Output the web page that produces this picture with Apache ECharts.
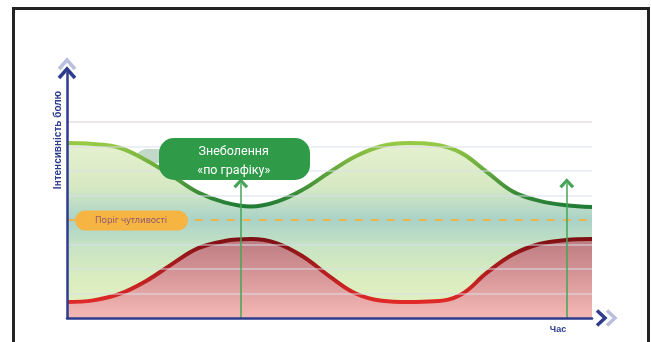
<!DOCTYPE html>
<html>
<head>
<meta charset="utf-8">
<script src="https://cdn.jsdelivr.net/npm/echarts@6/dist/echarts.min.js"></script>
<style>
  html, body { margin: 0; padding: 0; background: #ffffff; }
  #chart { width: 651px; height: 342px; }
</style>
</head>
<body>
<div id="chart"></div>
<script>
// Pain level over time: without analgesia "on schedule" (green) and with it (red)
const timeSteps  = [0, 5, 10, 15, 20, 25, 30, 35, 40, 45, 50, 55, 60, 65, 70, 75, 80, 85, 90, 95, 100];
const greenLevel = [7.14, 7.1, 6.95, 6.45, 5.8, 5.12, 4.72, 4.55, 4.75, 5.25, 5.95, 6.6, 7.02, 7.14, 7.08, 6.75, 5.95, 5.15, 4.78, 4.6, 4.53];
const redLevel   = [0.65, 0.72, 0.98, 1.5, 2.2, 2.85, 3.14, 3.22, 3.05, 2.5, 1.7, 1.0, 0.7, 0.65, 0.68, 0.95, 1.85, 2.6, 3.02, 3.18, 3.22];

const gridLevels     = [1, 2, 3, 5, 6, 7, 8];
const thresholdLevel = 4;
const doseTimes      = [33.1, 95.2];
const doseArrowTop   = 5.5;

const yAxisTitle     = 'Інтенсивність болю';
const xAxisTitle     = 'Час';
const thresholdTitle = 'Поріг чутливості';
const doseTitle      = 'Знеболення\n«по графіку»';

const NAVY = '#2e3b8e';
const chevronUp = 'path://M0,8 L7,0 L14,8 L11.6,10 L7,4.6 L2.4,10 Z';

const zip = (xs, ys) => xs.map((x, i) => [x, ys[i]]);
const vgrad = (stops) => new echarts.graphic.LinearGradient(0, 0, 0, 1,
  stops.map(([offset, color]) => ({ offset, color })));

const chart = echarts.init(document.getElementById('chart'), null, { renderer: 'canvas' });

chart.setOption({
  animation: false,
  grid: { left: 67, right: 59, top: 73, bottom: 24 },
  xAxis: {
    type: 'value', min: 0, max: 100, z: 5,
    axisLine: { show: true, lineStyle: { color: NAVY, width: 2.5 } },
    axisTick: { show: false }, axisLabel: { show: false }, splitLine: { show: false }
  },
  yAxis: {
    type: 'value', min: 0, max: 10, z: 5,
    axisLine: { show: true, lineStyle: { color: NAVY, width: 2.5 } },
    axisTick: { show: false }, axisLabel: { show: false }, splitLine: { show: false }
  },
  series: [
    {
      name: 'green', type: 'line', z: 2,
      data: zip(timeSteps, greenLevel),
      smooth: 0.4, symbol: 'none',
      lineStyle: { width: 4, color: vgrad([[0, '#9ccc46'], [1, '#1b7834']]) },
      areaStyle: {
        opacity: 1,
        color: vgrad([[0, '#e6f1cf'], [0.25, '#d6e9c3'], [0.44, '#a9d3c8'], [0.6, '#c8e4c3'], [0.8, '#dceebf'], [1, '#e1efc2']])
      }
    },
    {
      name: 'red', type: 'line', z: 3,
      data: zip(timeSteps, redLevel),
      smooth: 0.4, symbol: 'none',
      lineStyle: { width: 4, color: vgrad([[0, '#7c1014'], [1, '#e42a28']]) },
      areaStyle: {
        opacity: 1,
        color: vgrad([[0, '#bb7b80'], [0.5, '#d9999b'], [1, '#f4b8b4']])
      }
    },
    {
      name: 'guides', type: 'line', z: 4, data: [],
      markLine: {
        silent: true, animation: false,
        symbol: 'none',
        label: { show: false },
        data: [
          ...gridLevels.map(v => ({
            yAxis: v,
            lineStyle: { color: v === 8 ? 'rgba(232,215,218,0.9)' : 'rgba(218,222,236,0.65)', width: 1.5, type: 'solid' }
          })),
          {
            yAxis: thresholdLevel,
            lineStyle: { color: '#f0b24a', width: 2, type: [8, 8] }
          },
          ...doseTimes.map(t => [
            { coord: [t, 0], symbol: 'none', lineStyle: { color: '#45a456', width: 1.5, type: 'solid' } },
            { coord: [t, doseArrowTop], symbol: chevronUp, symbolSize: [15, 10] }
          ])
        ]
      }
    }
  ]
});

// Decorations positioned from the axes
const x0 = chart.convertToPixel({ xAxisIndex: 0 }, 0);
const x1 = chart.convertToPixel({ xAxisIndex: 0 }, 100);
const y0 = chart.convertToPixel({ yAxisIndex: 0 }, 0);
const y1 = chart.convertToPixel({ yAxisIndex: 0 }, 10);
const yThr = chart.convertToPixel({ yAxisIndex: 0 }, thresholdLevel);
const xDose = chart.convertToPixel({ xAxisIndex: 0 }, doseTimes[0]);

const chevron = (pts, color) => ({
  type: 'polyline', z: 20,
  shape: { points: pts },
  style: { stroke: color, lineWidth: 3.5, fill: 'none', lineJoin: 'miter', lineCap: 'butt' }
});

chart.setOption({
  graphic: [
    // frame
    {
      type: 'rect', z: 30,
      shape: { x: 13.5, y: 8.5, width: 635, height: 360 },
      style: { fill: 'none', stroke: '#232323', lineWidth: 3 }
    },
    // soft shadow behind the callout
    {
      type: 'rect', z: 0,
      shape: { x: 135, y: 149, width: 40, height: 14, r: [12, 12, 0, 0] },
      style: { fill: '#c2d9ca' }
    },
    // y axis arrow
    chevron([[x0 - 8, y1 - 4], [x0, y1 - 13], [x0 + 8, y1 - 4]], '#b9bfdc'),
    chevron([[x0 - 8, y1 + 5], [x0, y1 - 4], [x0 + 8, y1 + 5]], NAVY),
    // x axis arrow
    chevron([[x1 + 5, y0 - 7.5], [x1 + 13, y0], [x1 + 5, y0 + 7.5]], NAVY),
    chevron([[x1 + 15, y0 - 7.5], [x1 + 23, y0], [x1 + 15, y0 + 7.5]], '#b9bfdc'),
    // axis titles
    {
      type: 'text', z: 20, x: 58, y: 140, rotation: Math.PI / 2,
      style: { text: yAxisTitle, fill: NAVY, font: 'bold 10px "Liberation Sans", Arial, sans-serif', align: 'center', verticalAlign: 'middle' }
    },
    {
      type: 'text', z: 20, x: 558, y: 330,
      style: { text: xAxisTitle, fill: NAVY, font: 'bold 9px "Liberation Sans", Arial, sans-serif', align: 'center', verticalAlign: 'middle' }
    },
    // threshold badge
    {
      type: 'rect', z: 20,
      shape: { x: 75, y: yThr - 9.5, width: 113, height: 20, r: 10 },
      style: { fill: '#f6b443' }
    },
    {
      type: 'text', z: 21, x: 131, y: yThr + 0.5,
      style: { text: thresholdTitle, fill: '#8f5a6e', font: '9px "Noto Sans", sans-serif', align: 'center', verticalAlign: 'middle' }
    },
    // dosing callout
    {
      type: 'rect', z: 20,
      shape: { x: 159, y: 138, width: 151, height: 42, r: 15 },
      style: { fill: '#2f9a48' }
    },
    {
      type: 'text', z: 21, x: xDose - 7, y: 161,
      style: { text: doseTitle, fill: '#ffffff', font: '12.5px Roboto, sans-serif', lineHeight: 19, align: 'center', verticalAlign: 'middle' }
    }
  ]
});
</script>
</body>
</html>
